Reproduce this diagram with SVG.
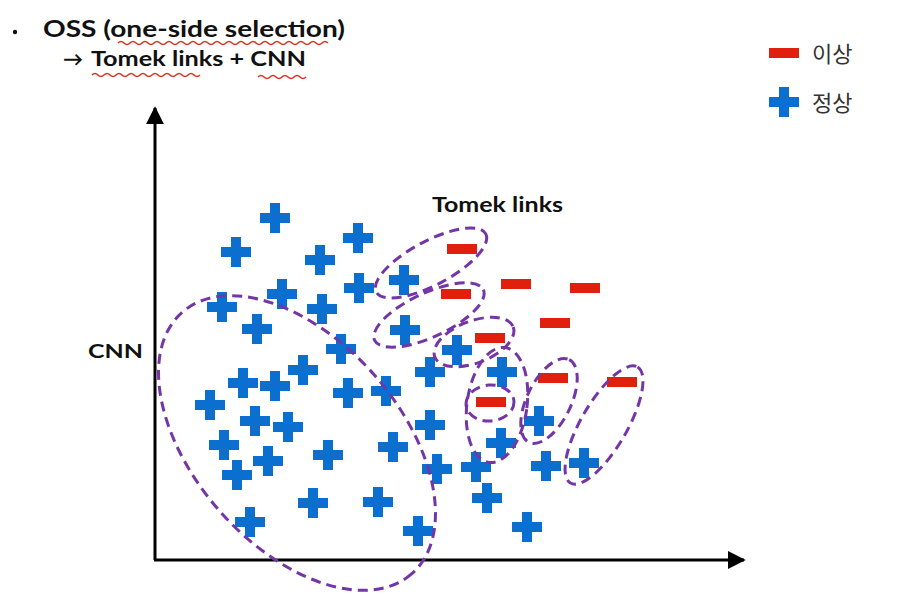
<svg xmlns="http://www.w3.org/2000/svg" xmlns:xlink="http://www.w3.org/1999/xlink" width="904" height="596" viewBox="0 0 904 596">
<style>
.t{font-family:"Lato","Liberation Sans",sans-serif;font-weight:bold;fill:#111}
.kr{font-family:"Noto Sans CJK KR","Noto Sans",sans-serif;font-size:22px;fill:#333}
.pl{fill:#0b6fcf}
.mn{fill:#e0200c}
.el{fill:none;stroke:#7436a6;stroke-width:3;stroke-dasharray:10 6}
.ax{stroke:#000;stroke-width:3;fill:none}
.sq{fill:none;stroke:#e03020;stroke-width:1.6}
</style>
<defs>
<path id="plus" d="M-5,-15h10v10h10v10h-10v10h-10v-10h-10v-10h10z"/>
<rect id="minus" x="-15" y="-5" width="30" height="10"/>
<marker id="ah" viewBox="0 0 10 10" refX="9" refY="5" markerWidth="6" markerHeight="6" markerUnits="strokeWidth" orient="auto">
<path d="M0,0L10,5L0,10z" fill="#000"/>
</marker>
</defs>
<rect width="904" height="596" fill="#fff"/>
<g id="title">
<circle cx="15" cy="32" r="2.2" fill="#111"/>
<text class="t" x="43" y="37" font-size="22" textLength="302" lengthAdjust="spacingAndGlyphs">OSS (one-side selection)</text>
<text class="t" x="63" y="66" font-size="20">→</text>
<text class="t" x="91" y="66" font-size="20" textLength="215" lengthAdjust="spacingAndGlyphs">Tomek links + CNN</text>
<path class="sq" d="M118,43q3,-3 6,0t6,0t6,0t6,0t6,0t6,0t6,0t6,0t6,0t6,0t6,0t6,0t6,0t6,0t6,0t6,0t6,0t6,0t6,0t6,0t6,0t6,0t6,0t6,0t6,0t6,0t6,0t6,0t6,0t6,0t6,0t6,0t6,0t6,0t6,0"/>
<path class="sq" d="M92,75q3,-3 6,0t6,0t6,0t6,0t6,0t6,0t6,0t6,0t6,0t6,0t6,0t6,0t6,0t6,0t6,0t6,0t6,0t6,0"/>
<path class="sq" d="M258,77q3,-3 6,0t6,0t6,0t6,0t6,0t6,0t6,0t6,0"/>
</g>
<g id="legend">
<use href="#minus" class="mn" x="784" y="53"/>
<text class="kr" x="812" y="62">이상</text>
<use href="#plus" class="pl" x="784" y="102"/>
<text class="kr" x="812" y="111">정상</text>
</g>
<g id="axes">
<line class="ax" x1="155" y1="560" x2="155" y2="108" marker-end="url(#ah)"/>
<line class="ax" x1="154" y1="560" x2="744" y2="560" marker-end="url(#ah)"/>
<text class="t" x="88" y="358" font-size="19" textLength="55" lengthAdjust="spacingAndGlyphs">CNN</text>
<text class="t" x="432" y="212" font-size="21" textLength="131" lengthAdjust="spacingAndGlyphs">Tomek links</text>
</g>
<g id="normal" class="pl">
<use href="#plus" x="275" y="218"/><use href="#plus" x="236" y="252"/><use href="#plus" x="358" y="238"/>
<use href="#plus" x="320" y="260"/><use href="#plus" x="404" y="280"/><use href="#plus" x="282" y="294"/>
<use href="#plus" x="359" y="288"/><use href="#plus" x="222" y="307"/><use href="#plus" x="322" y="309"/>
<use href="#plus" x="257" y="329"/><use href="#plus" x="405" y="330"/><use href="#plus" x="341" y="349"/>
<use href="#plus" x="457" y="350"/><use href="#plus" x="303" y="370"/><use href="#plus" x="430" y="372"/>
<use href="#plus" x="502" y="372"/><use href="#plus" x="243" y="383"/><use href="#plus" x="275" y="386"/>
<use href="#plus" x="348" y="393"/><use href="#plus" x="386" y="391"/><use href="#plus" x="210" y="405"/>
<use href="#plus" x="255" y="421"/><use href="#plus" x="288" y="427"/><use href="#plus" x="430" y="425"/>
<use href="#plus" x="539" y="421"/><use href="#plus" x="224" y="445"/><use href="#plus" x="328" y="455"/>
<use href="#plus" x="393" y="447"/><use href="#plus" x="501" y="443"/><use href="#plus" x="268" y="461"/>
<use href="#plus" x="237" y="475"/><use href="#plus" x="437" y="469"/><use href="#plus" x="476" y="467"/>
<use href="#plus" x="546" y="466"/><use href="#plus" x="584" y="463"/><use href="#plus" x="487" y="498"/>
<use href="#plus" x="313" y="503"/><use href="#plus" x="378" y="502"/><use href="#plus" x="250" y="522"/>
<use href="#plus" x="418" y="531"/><use href="#plus" x="527" y="527"/>
</g>
<g id="abnormal" class="mn">
<use href="#minus" x="462" y="249"/><use href="#minus" x="456" y="294"/><use href="#minus" x="516" y="284"/>
<use href="#minus" x="585" y="288"/><use href="#minus" x="555" y="323"/><use href="#minus" x="490" y="338"/>
<use href="#minus" x="491" y="402"/><use href="#minus" x="553" y="378"/><use href="#minus" x="622" y="382"/>
</g>
<g id="groups">
<ellipse class="el" cx="0" cy="0" rx="174" ry="103" transform="translate(297,443) rotate(48.7)"/>
<ellipse class="el" cx="0" cy="0" rx="62" ry="22" transform="translate(431,263) rotate(-28)"/>
<ellipse class="el" cx="0" cy="0" rx="60" ry="22" transform="translate(429,315) rotate(-25)"/>
<ellipse class="el" cx="0" cy="0" rx="42" ry="21" transform="translate(474,342) rotate(-21)"/>
<ellipse class="el" cx="0" cy="0" rx="30" ry="58" transform="translate(497,405) rotate(8)"/>
<ellipse class="el" cx="0" cy="0" rx="24" ry="18" transform="translate(490,403) rotate(-5)"/>
<ellipse class="el" cx="0" cy="0" rx="46" ry="22" transform="translate(549,401) rotate(-64)"/>
<ellipse class="el" cx="0" cy="0" rx="67" ry="23" transform="translate(604,425) rotate(-60)"/>
</g>
</svg>
